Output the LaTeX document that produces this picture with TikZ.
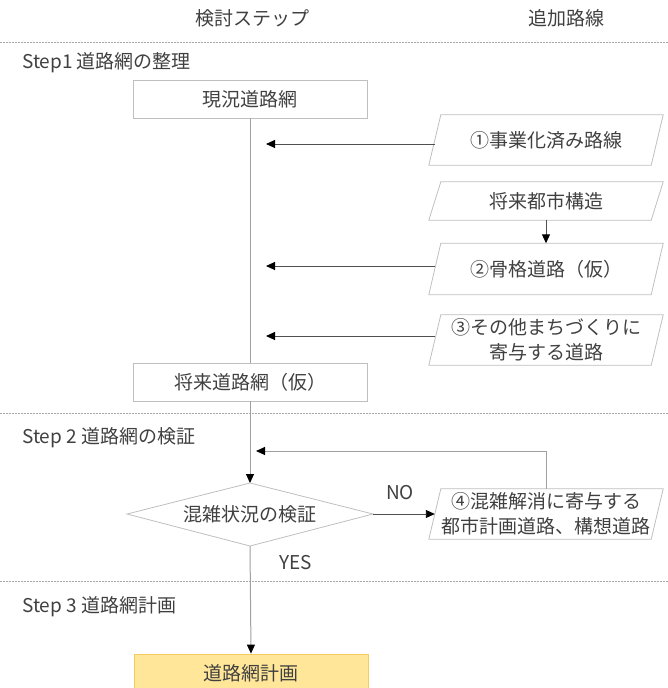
\documentclass[tikz,border=0pt]{standalone}
\usepackage{fontspec}
\setmainfont{Noto Sans CJK JP}
\usetikzlibrary{arrows.meta}
\definecolor{txt}{HTML}{404040}
\definecolor{bord}{HTML}{BFBFBF}
\definecolor{sepc}{HTML}{A6A6A6}
\definecolor{mainc}{HTML}{A0A0A0}
\definecolor{sidec}{HTML}{505050}
\definecolor{planfill}{HTML}{FFE699}
\definecolor{planbord}{HTML}{F4CB62}
\newcommand\pgdraw[2][6]{\draw[pgline] ([xshift=-#1pt]#2.south west) -- ([xshift=#1pt]#2.north west) -- ([xshift=#1pt]#2.north east) -- ([xshift=-#1pt]#2.south east) -- cycle;}
\begin{document}
\begin{tikzpicture}[x=1pt,y=-1pt,font=\fontsize{19}{25}\selectfont,text=txt,
  box/.style={draw=bord,line width=0.8pt,minimum width=234pt,minimum height=38pt,inner sep=0pt},
  pgram/.style={minimum width=222pt,minimum height=50pt,inner sep=0pt,align=center},
  pgline/.style={draw=bord,line width=0.8pt},
  tipstyle/.style={-{Triangle[length=9pt,width=8pt,color=black]}},
  arr/.style={draw=sidec,line width=0.9pt,tipstyle},
  garr/.style={draw=mainc,line width=1pt,tipstyle},
  mainline/.style={draw=mainc,line width=1pt},
  sepline/.style={draw=sepc,line width=0.8pt,dash pattern=on 1.5pt off 1.5pt},
  lbl/.style={anchor=west,inner sep=0pt}]
\useasboundingbox (0,0) rectangle (668,688);
\clip (0,0) rectangle (668,688);

% headers
\node (h1) at (252,18) {検討ステップ};
\node (h2) at (566,18) {追加路線};

% separators
\draw[sepline] (0,42) -- (668,42);
\draw[sepline] (0,413) -- (668,413);
\draw[sepline] (0,581) -- (668,581);

% step labels
\node[lbl] (s1) at (22,63) {Step1 道路網の整理};
\node[lbl] (s2) at (22,438) {Step 2 道路網の検証};
\node[lbl] (s3) at (22,607) {Step 3 道路網計画};

% main boxes
\node[box] (b1) at (250,99) {現況道路網};
\node[box] (b2) at (250,382) {将来道路網（仮）};
\node[box,fill=planfill,draw=planbord] (plan) at (251,673) {道路網計画};

% parallelograms
\node[pgram] (p1) at (546,140) {①事業化済み路線};
\pgdraw{p1}
\node[pgram,minimum height=38pt] (p0) at (546,201) {将来都市構造};
\pgdraw{p0}
\node[pgram,minimum height=51pt] (p2) at (546,269) {②骨格道路（仮）};
\pgdraw{p2}
\node[pgram] (p3) at (546,340) {③その他まちづくりに\\寄与する道路};
\pgdraw{p3}
\node[pgram] (p4) at (546,514) {④混雑解消に寄与する\\都市計画道路、構想道路};
\pgdraw{p4}

% diamond
\node (d) at (250,514) {混雑状況の検証};
\coordinate (dT) at (250,483);
\coordinate (dB) at (250,546);
\coordinate (dL) at (127,514);
\coordinate (dR) at (373,514);
\draw[pgline] (dL) -- (dT) -- (dR) -- (dB) -- cycle;

% connectors
\coordinate (tip) at (266,0);
\coordinate (tipfb) at (256,0);
\draw[mainline] (b1.south) -- (b2.north);
\draw[arr] ([yshift=-4pt]p1.west) -- ([yshift=-4pt]p1.west -| tip);
\draw[arr] (p0.south) -- (p2.north);
\draw[arr] ([yshift=3pt]p2.west) -- ([yshift=3pt]p2.west -| tip);
\draw[arr] ([yshift=4pt]p3.west) -- ([yshift=4pt]p3.west -| tip);
\draw[garr] (b2.south) -- (dT);
\draw[arr] (dR) -- (p4.west);
\coordinate (fb) at (546,451);
\draw[garr] (p4.north) -- (fb) -- (fb -| tipfb);
\draw[garr] (dB) -- (plan.north);

% labels
\node (no) at (400,493) {NO};
\node (yes) at (296,563) {YES};
\end{tikzpicture}
\end{document}
